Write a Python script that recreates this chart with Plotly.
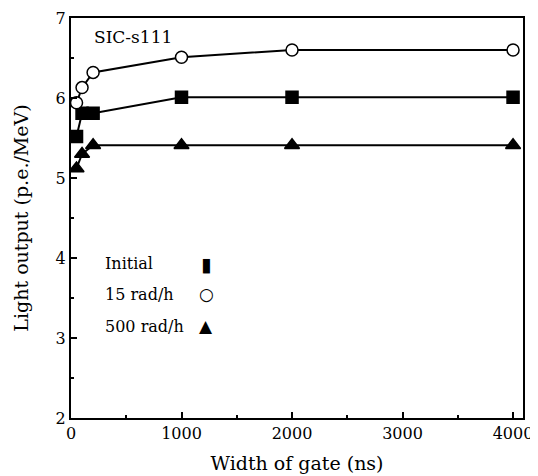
import plotly.graph_objects as go

gate_ns = [50, 100, 200, 1000, 2000, 4000]
initial = [5.52, 5.81, 5.81, 6.01, 6.01, 6.01]
rad15 = [5.94, 6.13, 6.32, 6.51, 6.60, 6.60]
rad500 = [5.12, 5.30, 5.41, 5.41, 5.41, 5.41]

FONT = "DejaVu Serif"

fig = go.Figure()
series = [
    ("Initial", initial, "square", "black"),
    ("15 rad/h", rad15, "circle", "white"),
    ("500 rad/h", rad500, "triangle-up", "black"),
]
for name, ys, sym, fill in series:
    fig.add_trace(go.Scatter(
        x=gate_ns, y=ys, mode="lines+markers", name=name,
        line=dict(color="black", width=2),
        marker=dict(symbol=sym, size=12 if sym != "triangle-up" else 13,
                    color=fill, line=dict(color="black", width=1.5)),
        showlegend=False,
    ))

axis_common = dict(
    showline=True, linecolor="black", linewidth=2, mirror=True,
    ticks="inside", ticklen=6, tickwidth=1.5, tickcolor="black",
    showgrid=False, zeroline=False, automargin=False,
    ticklabeloverflow="allow",
    tickfont=dict(family=FONT, size=16, color="black"),
)
fig.update_xaxes(range=[0, 4090], tickmode="linear", tick0=0, dtick=1000,
                 minor=dict(dtick=500, ticks="inside", ticklen=3, tickcolor="black", showgrid=False),
                 title=dict(text="Width of gate (ns)", font=dict(family=FONT, size=19, color="black"), standoff=14),
                 **axis_common)
fig.update_yaxes(range=[2, 7], tickmode="linear", tick0=2, dtick=1,
                 minor=dict(dtick=0.5, ticks="inside", ticklen=3, tickcolor="black", showgrid=False),
                 title=dict(text="Light output (p.e./MeV)", font=dict(family=FONT, size=19, color="black"), standoff=22),
                 **axis_common)

anns = [
    dict(x=0.046, y=0.953, text="SIC-s111", xanchor="left", yanchor="middle", size=17),
]
legend_rows = [("Initial", "▮", 0.386), ("15 rad/h", "○", 0.309), ("500 rad/h", "▲", 0.230)]
for label, sym, yy in legend_rows:
    anns.append(dict(x=0.071, y=yy, text=label, xanchor="left", yanchor="middle", size=16))
    anns.append(dict(x=0.2987, y=yy, text=sym, xanchor="center", yanchor="middle",
                     size=19 if sym == "▮" else 17))
for a in anns:
    s = a.pop("size")
    a.update(xref="paper", yref="paper", showarrow=False,
             font=dict(family=FONT, size=s, color="black"))
fig.update_layout(annotations=anns)

fig.update_layout(
    width=530, height=468,
    margin=dict(l=63, r=15, t=10, b=58),
    paper_bgcolor="white", plot_bgcolor="white",
)
fig.write_html("out.html")
